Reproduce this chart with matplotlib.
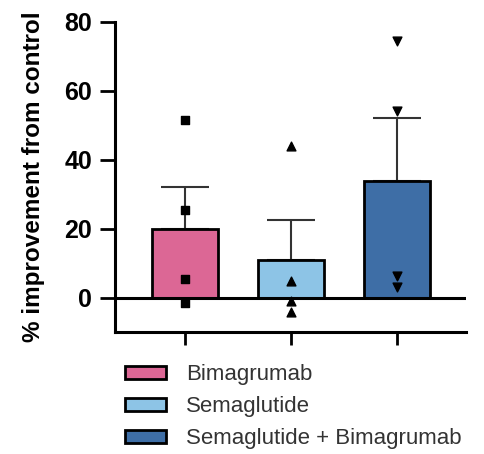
import matplotlib
matplotlib.use("Agg")
import matplotlib.pyplot as plt
from matplotlib.patches import Patch

plt.rcParams["font.family"] = ["Liberation Sans", "DejaVu Sans"]

groups = ["Bimagrumab", "Semaglutide", "Semaglutide + Bimagrumab"]
means = [20.0, 11.0, 33.8]
sem_upper = [12.0, 11.5, 18.2]
points = [
    [51.4, 25.3, 5.4, -1.5],
    [43.9, 4.9, -1.1, -4.2],
    [74.4, 54.1, 6.2, 3.1],
]
markers = ["s", "^", "v"]
colors = ["#dc6795", "#8dc4e6", "#3e6ea6"]
yticks = [0, 20, 40, 60, 80]

fig = plt.figure(figsize=(4.84, 4.54), dpi=100)
ax = fig.add_axes([0.2376, 0.2687, 0.725, 0.683])

x = list(range(len(groups)))
ax.bar(x, means, width=0.63, color=colors, edgecolor="black", linewidth=2, zorder=2)
for xi, m, e in zip(x, means, sem_upper):
    ax.errorbar([xi], [m], yerr=[[0], [e]], fmt="none", ecolor="#333333",
                elinewidth=1.5, capsize=17, capthick=1.5, zorder=1)
for xi, pts, mk in zip(x, points, markers):
    ax.scatter([xi] * len(pts), pts, marker=mk, s=40, color="black", zorder=3)

ax.axhline(0, color="black", linewidth=2.2, zorder=4)
ax.set_xlim(-0.66, 2.65)
ax.set_ylim(-10, 80)
ax.set_yticks(yticks)
ax.set_xticks(x)
ax.set_xticklabels([])
ax.spines["top"].set_visible(False)
ax.spines["right"].set_visible(False)
ax.spines["left"].set_linewidth(2.2)
ax.spines["bottom"].set_linewidth(2.2)
ax.tick_params(axis="y", length=10.5, width=2, labelsize=18, pad=6)
ax.tick_params(axis="x", length=9, width=2)
for lbl in ax.get_yticklabels():
    lbl.set_fontweight("bold")
ax.set_ylabel("% improvement from control", fontsize=17.5, fontweight="bold")
ax.yaxis.set_label_coords(-0.2, 0.5)

handles = [Patch(facecolor=c, edgecolor="black", linewidth=2) for c in colors]
fig.legend(handles, groups, loc="upper left", bbox_to_anchor=(0.226, 0.232),
           frameon=False, fontsize=16, handlelength=1.85, handleheight=0.52,
           labelspacing=0.5, handletextpad=0.9, labelcolor="#333333",
           borderpad=0.2)

fig.savefig("out.png", dpi=100)
